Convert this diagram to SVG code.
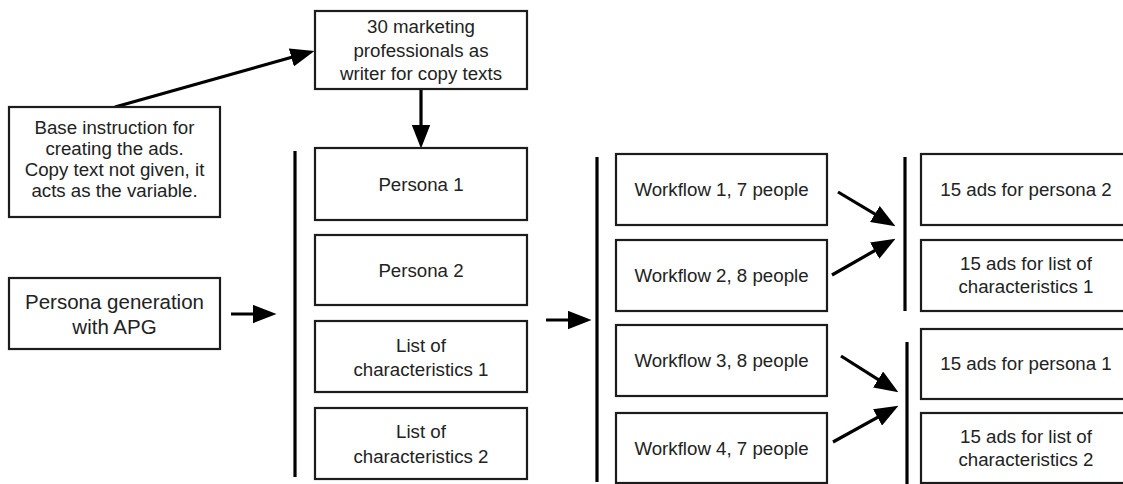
<svg xmlns="http://www.w3.org/2000/svg" width="1123" height="484" viewBox="0 0 1123 484">
  <style>
    .box { fill: #ffffff; stroke: #1c1c1c; stroke-width: 2.2; }
    .lbl { font-family: "Liberation Sans", Arial, sans-serif; font-size: 18.7px; fill: #222222; text-anchor: middle; }
    .big { font-size: 20.5px; }
    .edge { stroke: #000000; stroke-width: 3.2; fill: none; marker-end: url(#head); }
    .bar { stroke: #000000; stroke-width: 3.2; }
  </style>
  <defs>
    <marker id="head" markerUnits="userSpaceOnUse" markerWidth="24" markerHeight="19" viewBox="0 0 23 18" refX="11" refY="9" orient="auto">
      <path d="M0,0 L23,9 L0,18 Z" fill="#000000"/>
    </marker>
  </defs>

  <rect width="1123" height="484" fill="#ffffff"/>

  <!-- connectors -->
  <g id="connectors">
    <line class="edge" x1="115" y1="107" x2="302.4" y2="54.3"/>
    <line class="edge" x1="421" y1="89" x2="421" y2="136"/>
    <line class="edge" x1="231" y1="314" x2="264" y2="314"/>
    <line class="edge" x1="546" y1="320" x2="579" y2="320"/>
    <line class="edge" x1="838" y1="192" x2="884.7" y2="219.9"/>
    <line class="edge" x1="832" y1="275" x2="884.6" y2="245"/>
    <line class="edge" x1="841" y1="356" x2="887.8" y2="385.6"/>
    <line class="edge" x1="833" y1="442" x2="887.5" y2="411.8"/>
    <!-- grouping bars -->
    <line class="bar" x1="295" y1="151" x2="295" y2="477"/>
    <line class="bar" x1="597" y1="157" x2="597" y2="482"/>
    <line class="bar" x1="905" y1="157" x2="905" y2="311"/>
    <line class="bar" x1="907" y1="342" x2="907" y2="486"/>
  </g>

  <g id="writers">
    <rect class="box" x="315" y="11" width="212" height="78"/>
    <text class="lbl" x="421" y="33">30 marketing</text>
    <text class="lbl" x="421" y="57">professionals as</text>
    <text class="lbl" x="421" y="80">writer for copy texts</text>
  </g>

  <g id="base-instruction">
    <rect class="box" x="9" y="107" width="211" height="110"/>
    <text class="lbl" x="114.5" y="134">Base instruction for</text>
    <text class="lbl" x="114.5" y="155">creating the ads.</text>
    <text class="lbl" x="114.5" y="176">Copy text not given, it</text>
    <text class="lbl" x="114.5" y="197">acts as the variable.</text>
  </g>

  <g id="persona-generation">
    <rect class="box" x="9" y="278" width="211" height="71"/>
    <text class="lbl big" x="114.5" y="309">Persona generation</text>
    <text class="lbl big" x="114.5" y="334">with APG</text>
  </g>

  <g id="persona-1">
    <rect class="box" x="315" y="148" width="212" height="72"/>
    <text class="lbl" x="421" y="191">Persona 1</text>
  </g>
  <g id="persona-2">
    <rect class="box" x="315" y="235" width="212" height="70"/>
    <text class="lbl" x="421" y="277">Persona 2</text>
  </g>
  <g id="characteristics-1">
    <rect class="box" x="315" y="321" width="212" height="71"/>
    <text class="lbl" x="421" y="352">List of</text>
    <text class="lbl" x="421" y="376">characteristics 1</text>
  </g>
  <g id="characteristics-2">
    <rect class="box" x="315" y="408" width="212" height="71"/>
    <text class="lbl" x="421" y="438">List of</text>
    <text class="lbl" x="421" y="463">characteristics 2</text>
  </g>

  <g id="workflow-1">
    <rect class="box" x="616" y="154" width="211" height="71"/>
    <text class="lbl" x="721.5" y="196">Workflow 1, 7 people</text>
  </g>
  <g id="workflow-2">
    <rect class="box" x="616" y="240" width="211" height="71"/>
    <text class="lbl" x="721.5" y="282">Workflow 2, 8 people</text>
  </g>
  <g id="workflow-3">
    <rect class="box" x="616" y="325" width="211" height="71"/>
    <text class="lbl" x="721.5" y="367">Workflow 3, 8 people</text>
  </g>
  <g id="workflow-4">
    <rect class="box" x="616" y="413" width="211" height="70"/>
    <text class="lbl" x="721.5" y="455">Workflow 4, 7 people</text>
  </g>

  <g id="ads-persona-2">
    <rect class="box" x="921" y="154" width="210" height="71"/>
    <text class="lbl" x="1026" y="196">15 ads for persona 2</text>
  </g>
  <g id="ads-characteristics-1">
    <rect class="box" x="921" y="240" width="210" height="71"/>
    <text class="lbl" x="1026" y="270">15 ads for list of</text>
    <text class="lbl" x="1026" y="293">characteristics 1</text>
  </g>
  <g id="ads-persona-1">
    <rect class="box" x="921" y="329" width="210" height="70"/>
    <text class="lbl" x="1026" y="370">15 ads for persona 1</text>
  </g>
  <g id="ads-characteristics-2">
    <rect class="box" x="921" y="413" width="210" height="70"/>
    <text class="lbl" x="1026" y="443">15 ads for list of</text>
    <text class="lbl" x="1026" y="466">characteristics 2</text>
  </g>
</svg>
